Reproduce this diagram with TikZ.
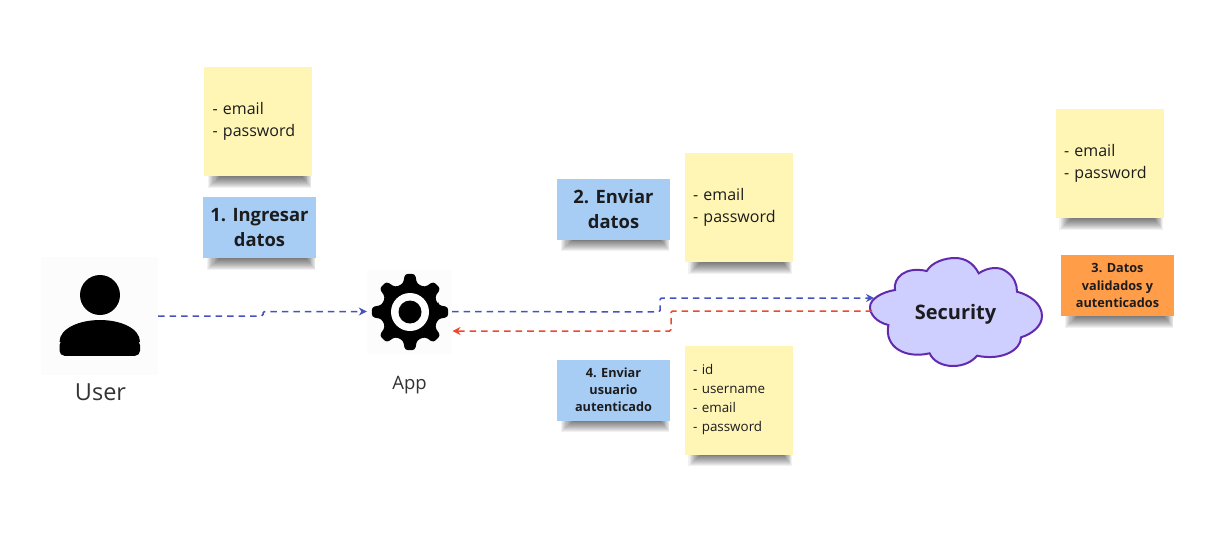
\documentclass[tikz,border=0pt]{standalone}
\usepackage{xcolor}
\usepackage{fontspec}
\setmainfont{Open Sans}
\usetikzlibrary{calc,arrows.meta}
\definecolor{noteyellow}{RGB}{255,246,182}
\definecolor{tagblue}{RGB}{167,205,245}
\definecolor{tagorange}{RGB}{255,157,72}
\definecolor{cloudfill}{RGB}{206,206,255}
\definecolor{cloudline}{RGB}{98,42,172}
\definecolor{sendblue}{RGB}{70,82,190}
\definecolor{backred}{RGB}{240,72,46}
\definecolor{inkdark}{RGB}{28,28,30}
\tikzset{
  note/.style={fill=noteyellow, minimum width=108pt, minimum height=109pt, inner sep=0pt, text=inkdark, align=left},
  notetext/.style={text width=91pt, font=\fontsize{16}{22.6}\selectfont},
  smalltext/.style={text width=91pt, font=\fontsize{13.4}{19}\selectfont},
  tag/.style={fill=tagblue, minimum width=113pt, minimum height=61pt, inner sep=0pt, text=inkdark, align=center},
  bigtag/.style={font=\bfseries\fontsize{18.4}{25}\selectfont},
  smalltag/.style={font=\bfseries\fontsize{12.7}{17.2}\selectfont},
  iconbox/.style={fill=black!1, inner sep=0pt},
  caption/.style={text=inkdark!90, inner sep=0pt},
  sendline/.style={sendblue, line width=1.5pt, dash pattern=on 6.5pt off 5pt, rounded corners=1.5pt, -{Stealth[length=8pt,width=8pt]}},
  backline/.style={backred, line width=1.5pt, dash pattern=on 6.5pt off 5pt, rounded corners=1.5pt, -{Stealth[length=8pt,width=8pt]}},
}
\newcommand{\noteshadow}[1]{
  \foreach \d in {1,2,...,12} {
    \fill[black, opacity=0.055] ($(#1.south west)+(3+\d*1.1,0)$) rectangle ($(#1.south east)+(-\d*0.8,12.5-\d)$);
  }
}
\begin{document}
\begin{tikzpicture}[x=1pt, y=-1pt]
  \useasboundingbox (0,0) rectangle (1231,542);
  \fill[white] (0,0) rectangle (1231,542);

  % Sticky notes
  \node[note, notetext] (noteuser) at (258,121.5) {- email\\- password};
  \node[note, notetext] (notesend) at (738.5,207.5) {- email\\- password};
  \node[note, notetext] (notecheck) at (1109.5,163.5) {- email\\- password};
  \node[note, smalltext] (notereply) at (738.5,400) {- id\\- username\\- email\\- password};
  \noteshadow{noteuser}
  \noteshadow{notesend}
  \noteshadow{notecheck}
  \noteshadow{notereply}

  % Step labels
  \node[tag, bigtag] (stepone) at (259.5,227.5) {1. Ingresar\\datos};
  \node[tag, bigtag] (steptwo) at (613.5,209) {2. Enviar\\datos};
  \node[tag, smalltag, fill=tagorange] (stepthree) at (1117.5,285.5) {3. Datos\\validados y\\autenticados};
  \node[tag, smalltag] (stepfour) at (613.5,390) {4. Enviar\\usuario\\autenticado};
  \noteshadow{stepone}
  \noteshadow{steptwo}
  \noteshadow{stepthree}
  \noteshadow{stepfour}

  % User icon
  \node[iconbox, minimum width=117pt, minimum height=118pt] (user) at (99.5,316) {};
  \fill[black] (100,295) circle (20);
  \fill[black, rounded corners=5pt] (59.5,355.8) -- (59.5,340) -- (140,340) -- (140,355.8) -- cycle;
  \fill[black] (59.5,342) .. controls (59.5,328) and (80,320) .. (100,320) .. controls (120,320) and (140,328) .. (140,342) -- cycle;
  \node[caption, font=\fontsize{23.5}{28}\selectfont] (usercaption) at (100.5,392) {User};

  % App icon
  \node[iconbox, minimum width=85pt, minimum height=84pt] (app) at (409.5,311.5) {};
  \begin{scope}[shift={(410,312)}]
    \fill[black, rounded corners=3pt] (-14:29) foreach \a in {0,45,...,315} {
      -- (\a-14:29) -- (\a-7.5:38.5) -- (\a+7.5:38.5) -- (\a+14:29)
    } -- cycle;
    \fill[white] (0,0) circle (19);
    \fill[black] (0,0) circle (11.5);
  \end{scope}
  \node[caption, font=\fontsize{18.5}{22}\selectfont] (appcaption) at (409.5,385.5) {App};

  % Security cloud
  \draw[cloudline, fill=cloudfill, line width=2pt] (926.7,271) .. controls (932,262) and (945,258) .. (955,258)
    .. controls (966,258) and (974,264) .. (978.7,273.3)
    .. controls (988,267) and (1000,266) .. (1007,272)
    .. controls (1014,277) and (1017,284) .. (1017,291.7)
    .. controls (1030,295) and (1042,304) .. (1042,316)
    .. controls (1042,326) and (1032,334) .. (1021,337.3)
    .. controls (1021,350) and (1002,361) .. (977,355.7)
    .. controls (972,362) and (963,366) .. (953,366)
    .. controls (942,366) and (933,361) .. (929.6,353.3)
    .. controls (905,359) and (884,347) .. (888.4,325)
    .. controls (876,322) and (870,314) .. (870,307)
    .. controls (870,299) and (882,292) .. (895,290)
    .. controls (893,278) and (905,266) .. (926.7,271) -- cycle;
  \node[font=\bfseries\fontsize{20}{24}\selectfont, text=inkdark, inner sep=0pt] (security) at (955.5,314.5) {Security};

  % Connectors
  \coordinate (securityin) at (874,298);
  \coordinate (securityout) at (872,311);
  \coordinate (appback) at (452.5,331);
  \draw[sendline] (user.east) -- (263,316) |- (app.west);
  \draw[sendline] (app.east) -- (660,312) |- (securityin);
  \draw[backline] (securityout) -- (671,311) |- (appback);
\end{tikzpicture}
\end{document}
